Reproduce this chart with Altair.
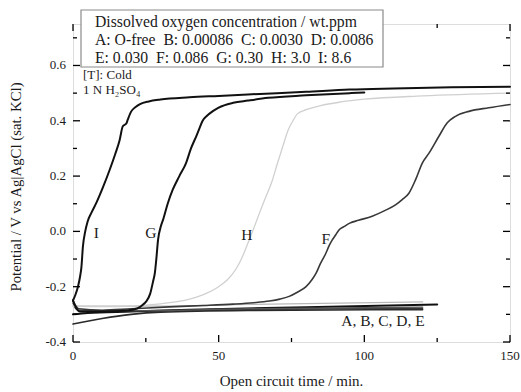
import altair as alt
import pandas as pd

# ---- Open-circuit potential transients, 1 N H2SO4 (cold) ----
# time in minutes, potential in V vs Ag|AgCl (sat. KCl)
t_I = [0, 0.8, 1.7, 2.4, 2.9, 3.4, 4.2, 5, 6.3, 8, 10.3, 12.6, 14.5, 16, 17.1, 18.3,
       18.8, 20, 21.5, 23, 26, 30, 40, 50, 60, 70, 80, 95, 110, 130, 150]
v_I = [-0.25, -0.23, -0.20, -0.165, -0.128, -0.055, 0.0, 0.035, 0.067, 0.103, 0.16, 0.223,
       0.28, 0.33, 0.38, 0.39, 0.404, 0.434, 0.45, 0.46, 0.47, 0.477, 0.485, 0.49, 0.495,
       0.50, 0.505, 0.513, 0.517, 0.521, 0.523]

t_G = [0, 1, 2.5, 10, 18, 22, 24, 25, 26.5, 27.5, 28.1, 28.6, 29.2, 30.2, 31, 32.5, 34.2,
       36.5, 38.8, 40.5, 42.3, 43.5, 44.5, 46, 48, 50, 55, 60, 67, 80, 95, 100]
v_G = [-0.25, -0.275, -0.29, -0.29, -0.287, -0.279, -0.265, -0.255, -0.225, -0.18, -0.15,
       -0.10, -0.03, 0.02, 0.045, 0.10, 0.15, 0.20, 0.247, 0.30, 0.344, 0.375, 0.40, 0.418,
       0.435, 0.448, 0.465, 0.473, 0.483, 0.492, 0.50, 0.502]

t_H = [0, 10, 20, 30, 40, 45, 50, 53, 56, 58, 60.5, 62, 64, 66, 68.5, 70, 72, 74, 75.5, 77,
       80, 85, 92, 100, 120, 150]
v_H = [-0.27, -0.272, -0.27, -0.262, -0.245, -0.228, -0.20, -0.175, -0.135, -0.095, -0.03,
       0.01, 0.066, 0.12, 0.187, 0.24, 0.307, 0.37, 0.40, 0.425, 0.44, 0.455, 0.468, 0.478,
       0.49, 0.50]

t_F = [0, 2, 10, 20, 33, 45, 55, 62, 67.4, 71, 74.2, 77, 80, 82, 83.4, 85, 86.8, 88, 89,
       90.2, 91.3, 93, 95, 98, 102.7, 107, 110.7, 113, 115.3, 117.6, 119.9, 122.2, 125.6,
       128.4, 131.3, 135.9, 142.7, 150]
v_F = [-0.25, -0.28, -0.285, -0.28, -0.273, -0.268, -0.263, -0.258, -0.252, -0.245, -0.235,
       -0.22, -0.20, -0.175, -0.152, -0.115, -0.079, -0.05, -0.031, -0.012, 0.005, 0.017,
       0.03, 0.04, 0.055, 0.075, 0.096, 0.115, 0.138, 0.187, 0.247, 0.283, 0.344, 0.392,
       0.416, 0.434, 0.447, 0.459]

t_A = [0, 1, 3, 20, 60, 120]
v_A = [-0.25, -0.28, -0.29, -0.288, -0.283, -0.278]
t_B = [0, 10, 20, 30, 60, 120]
v_B = [-0.335, -0.315, -0.30, -0.292, -0.286, -0.283]
t_C = [0, 30, 60, 120]
v_C = [-0.27, -0.27, -0.264, -0.255]
t_D = [0, 5, 20, 40, 80, 125]
v_D = [-0.30, -0.295, -0.29, -0.283, -0.274, -0.264]
t_E = [0, 2, 20, 60, 120]
v_E = [-0.26, -0.285, -0.287, -0.28, -0.274]

curve_names = ["A", "B", "C", "D", "E", "H", "F", "G", "I"]
curve_t = [t_A, t_B, t_C, t_D, t_E, t_H, t_F, t_G, t_I]
curve_v = [v_A, v_B, v_C, v_D, v_E, v_H, v_F, v_G, v_I]

# curve labels placed next to each transient
label_text = ["I", "G", "H", "F", "A, B, C, D, E"]
label_t = [8, 26.7, 59.7, 86.8, 106.4]
label_v = [-0.007, -0.007, -0.013, -0.029, -0.324]

GAP = " \u00a0"  # wider gap between entries
legend_lines = [
    "Dissolved oxygen concentration / wt.ppm",
    GAP.join(["A: O-free", "B: 0.00086", "C: 0.0030", "D: 0.0086"]),
    GAP.join(["E: 0.030", "F: 0.086", "G: 0.30", "H: 3.0", "I: 8.6"]),
]
cond_lines = ["[T]: Cold", "1 N H\u2082SO\u2084"]

x_title = "Open circuit time / min."
y_title = "Potential / V vs Ag|AgCl (sat. KCl)"

x_major = [0, 50, 100, 150]
x_minor = [25, 75, 125]
y_major = [-0.4, -0.2, 0.0, 0.2, 0.4, 0.6]
y_minor = [-0.3, -0.1, 0.1, 0.3, 0.5, 0.7]

W, H = 437, 318
FONT = "Liberation Serif"
INK = "#1a1a1a"

line_style = {
    "A": ("#3a3a3a", 1.5), "B": ("#2a2a2a", 1.6), "C": ("#b8b8b8", 1.3),
    "D": ("#111111", 2.0), "E": ("#555555", 1.4), "H": ("#d0d0d0", 1.3),
    "F": ("#383838", 1.6), "G": ("#111111", 2.0), "I": ("#111111", 2.0),
}

xs = alt.Scale(domain=[0, 150], nice=False, zero=False)
ys = alt.Scale(domain=[-0.4, 0.75], nice=False, zero=False)

X = lambda: alt.X("t:Q", scale=xs, axis=None)
Y = lambda: alt.Y("v:Q", scale=ys, axis=None)

layers = []
for name, tt, vv in zip(curve_names, curve_t, curve_v):
    df = pd.DataFrame({"t": tt, "v": vv})
    color, width = line_style[name]
    layers.append(
        alt.Chart(df).mark_line(color=color, strokeWidth=width, interpolate="monotone",
                                strokeJoin="round", strokeCap="round").encode(x=X(), y=Y())
    )

# inward tick marks on all four sides
def ticks_x(vals, length):
    d = pd.DataFrame({"t": vals})
    bottom = alt.Chart(d).mark_rule(color="black", strokeWidth=1.3).encode(
        x=X(), y=alt.value(H), y2=alt.value(H - length))
    top = alt.Chart(d).mark_rule(color="black", strokeWidth=1.3).encode(
        x=X(), y=alt.value(0), y2=alt.value(length))
    return [bottom, top]

def ticks_y(vals, length):
    d = pd.DataFrame({"v": vals})
    left = alt.Chart(d).mark_rule(color="black", strokeWidth=1.3).encode(
        y=Y(), x=alt.value(0), x2=alt.value(length))
    right = alt.Chart(d).mark_rule(color="black", strokeWidth=1.3).encode(
        y=Y(), x=alt.value(W), x2=alt.value(W - length))
    return [left, right]

layers += ticks_x(x_major, 7) + ticks_x(x_minor, 4)
layers += ticks_y(y_major, 7) + ticks_y(y_minor, 4)

# tick labels
xl = pd.DataFrame({"t": x_major, "txt": [str(v) for v in x_major]})
layers.append(
    alt.Chart(xl).mark_text(font=FONT, fontSize=13, color=INK, align="center",
                            baseline="middle").encode(
        x=X(), y=alt.value(H + 14), text="txt:N")
)
yl = pd.DataFrame({"v": y_major, "txt": [f"{v:.1f}" for v in y_major]})
layers.append(
    alt.Chart(yl).mark_text(font=FONT, fontSize=13, color=INK, align="right",
                            baseline="middle").encode(
        y=Y(), x=alt.value(-7), text="txt:N")
)

# axis titles
layers.append(
    alt.Chart(pd.DataFrame({"txt": [x_title]})).mark_text(
        font=FONT, fontSize=15, color=INK, align="center", baseline="middle"
    ).encode(x=alt.value(W / 2), y=alt.value(H + 39), text="txt:N")
)
layers.append(
    alt.Chart(pd.DataFrame({"txt": [y_title]})).mark_text(
        font=FONT, fontSize=14.8, color=INK, align="center", baseline="middle", angle=270
    ).encode(x=alt.value(-56), y=alt.value(H / 2 + 4), text="txt:N")
)

# curve labels
lab_df = pd.DataFrame({"txt": label_text, "t": label_t, "v": label_v})
layers.append(
    alt.Chart(lab_df).mark_text(font=FONT, fontSize=15.5, color=INK, baseline="middle",
                                align="center").encode(x=X(), y=Y(), text="txt:N")
)

# legend box with oxygen concentrations
box_df = pd.DataFrame({"k": [0]})
layers.append(
    alt.Chart(box_df).mark_rect(fill="white", stroke="#8a8a8a", strokeWidth=1.2).encode(
        x=alt.value(8), x2=alt.value(310), y=alt.value(-14), y2=alt.value(43))
)
for line, base in zip(legend_lines, [2.7, 21, 39.3]):
    layers.append(
        alt.Chart(pd.DataFrame({"txt": [line]})).mark_text(
            font=FONT, fontSize=15.7, color=INK, align="left", baseline="alphabetic"
        ).encode(x=alt.value(22), y=alt.value(base), text="txt:N")
    )
for line, base in zip(cond_lines, [55, 69.5]):
    layers.append(
        alt.Chart(pd.DataFrame({"txt": [line]})).mark_text(
            font=FONT, fontSize=13, color=INK, align="left", baseline="alphabetic"
        ).encode(x=alt.value(10), y=alt.value(base), text="txt:N")
    )

chart = alt.layer(*layers).properties(
    width=W, height=H,
    autosize=alt.AutoSizeParams(type="none"),
    padding={"left": 73, "top": 24, "right": 11, "bottom": 50},
).configure_view(
    stroke="black", strokeWidth=1.5
).configure(background="white", font=FONT)

chart.save("out.html", embed_options={"renderer": "svg", "actions": False})
